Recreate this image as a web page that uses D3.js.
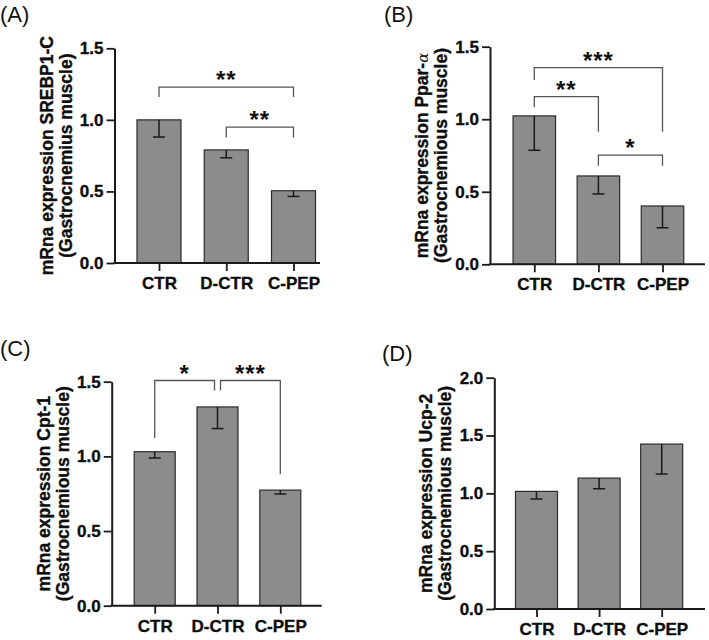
<!DOCTYPE html>
<html><head><meta charset="utf-8">
<script src="https://cdn.jsdelivr.net/npm/d3@7"></script>
<style>body{margin:0;background:#fff}svg{display:block}</style>
</head><body>
<svg id="chart" width="709" height="640"></svg>
<script>
const categories = ["CTR", "D-CTR", "C-PEP"];

const srebpMeans = [1.00, 0.79, 0.505];
const srebpErr   = [0.12, 0.055, 0.04];
const pparMeans  = [1.023, 0.609, 0.402];
const pparErr    = [0.237, 0.124, 0.15];
const cptMeans   = [1.031, 1.331, 0.774];
const cptErr     = [0.042, 0.145, 0.026];
const ucpMeans   = [1.017, 1.132, 1.426];
const ucpErr     = [0.066, 0.092, 0.259];

const ticks15 = [0.0, 0.5, 1.0, 1.5];
const ticks20 = [0.0, 0.5, 1.0, 1.5, 2.0];

// significance brackets: from, to, bar height, left-leg end, right-leg end (data units)
const bracketsA = [
  {a: "CTR",   b: "C-PEP", y: 1.229, ya: 1.159, yb: 1.159, label: "**"},
  {a: "D-CTR", b: "C-PEP", y: 0.949, ya: 0.876, yb: 0.876, label: "**"}
];
const bracketsB = [
  {a: "CTR",   b: "C-PEP", y: 1.356, ya: 1.271, yb: 0.914, label: "***"},
  {a: "CTR",   b: "D-CTR", y: 1.156, ya: 1.083, yb: 0.914, label: "**"},
  {a: "D-CTR", b: "C-PEP", y: 0.752, ya: 0.680, yb: 0.680, label: "*"}
];
const bracketsC = [
  {a: "CTR",   b: "D-CTR", y: 1.508, ya: 1.123, yb: 1.441, label: "*"},
  {a: "D-CTR", b: "C-PEP", y: 1.508, ya: 1.441, yb: 0.882, label: "***"}
];
const bracketsD = [];

const panelLabels = ["(A)", "(B)", "(C)", "(D)"];
const yTitles = [
  ["mRna expression SREBP1-C", "(Gastrocnemius muscle)"],
  ["mRna expression Ppar-", "(Gastrocnemious muscle)"],
  ["mRna expression Cpt-1", "(Gastrocnemious muscle)"],
  ["mRna expression Ucp-2", "(Gastrocnemious muscle)"]
];

const panels = [
  {label: panelLabels[0], means: srebpMeans, errs: srebpErr, brackets: bracketsA, ymax: 1.5, ticks: ticks15, title: yTitles[0], alpha: false,
   lx: 0, ly: 22, axisX: 114.5, y0: 263, yTop: 48.3, xc: [159, 293.5], xEnd: 320, barW: 44},
  {label: panelLabels[1], means: pparMeans, errs: pparErr, brackets: bracketsB, ymax: 1.5, ticks: ticks15, title: yTitles[1], alpha: true,
   lx: 384, ly: 22, axisX: 490, y0: 264.3, yTop: 46.7, xc: [534.3, 662.5], xEnd: 705, barW: 42.5},
  {label: panelLabels[2], means: cptMeans, errs: cptErr, brackets: bracketsC, ymax: 1.5, ticks: ticks15, title: yTitles[2], alpha: false,
   lx: 0, ly: 356, axisX: 111.7, y0: 605.7, yTop: 381.7, xc: [154.7, 280.3], xEnd: 321.7, barW: 41},
  {label: panelLabels[3], means: ucpMeans, errs: ucpErr, brackets: bracketsD, ymax: 2.0, ticks: ticks20, title: yTitles[3], alpha: false,
   lx: 382, ly: 361, axisX: 494.3, y0: 609, yTop: 377.7, xc: [536.5, 661.7], xEnd: 705, barW: 42}
];

const FONT = "'Liberation Sans', Arial, Helvetica, sans-serif";
const INK = "#0d0d0d";
const svg = d3.select("#chart");

function boldText(sel, size) {
  return sel.attr("font-family", FONT).attr("font-size", size).attr("font-weight", "bold")
    .attr("fill", INK).attr("stroke", INK).attr("stroke-width", 0.35);
}

panels.forEach(p => {
  const g = svg.append("g");
  const y = d3.scaleLinear().domain([0, p.ymax]).range([p.y0, p.yTop]);
  const x = d3.scalePoint().domain(categories).range(p.xc);

  // panel label
  g.append("text").attr("x", p.lx).attr("y", p.ly)
    .attr("font-family", FONT).attr("font-size", 22).attr("fill", "#111")
    .text(p.label);

  // bars
  const data = categories.map((c, i) => ({c, m: p.means[i], e: p.errs[i]}));
  g.selectAll("rect.bar").data(data).join("rect")
    .attr("x", d => x(d.c) - p.barW / 2)
    .attr("y", d => y(d.m))
    .attr("width", p.barW)
    .attr("height", d => y(0) - y(d.m))
    .attr("fill", "#8c8c8c").attr("stroke", "#2b2b2b").attr("stroke-width", 1.2);

  // error bars (downward)
  const eb = g.selectAll("g.err").data(data).join("g");
  eb.append("line")
    .attr("x1", d => x(d.c)).attr("x2", d => x(d.c))
    .attr("y1", d => y(d.m)).attr("y2", d => y(d.m - d.e))
    .attr("stroke", "#1a1a1a").attr("stroke-width", 1.5);
  eb.append("line")
    .attr("x1", d => x(d.c) - 6).attr("x2", d => x(d.c) + 6)
    .attr("y1", d => y(d.m - d.e)).attr("y2", d => y(d.m - d.e))
    .attr("stroke", "#1a1a1a").attr("stroke-width", 1.5);

  // y axis
  const ya = g.append("g").attr("transform", `translate(${p.axisX},0)`)
    .call(d3.axisLeft(y).tickValues(p.ticks).tickFormat(d3.format(".1f")).tickSize(8).tickSizeOuter(0).tickPadding(3));
  ya.select(".domain").attr("stroke", "#1a1a1a").attr("stroke-width", 2);
  ya.selectAll(".tick line").attr("stroke", "#1a1a1a").attr("stroke-width", 1.8);
  boldText(ya.selectAll(".tick text"), 17);

  // x axis
  const xa = g.append("g").attr("transform", `translate(0,${p.y0})`)
    .call(d3.axisBottom(x).tickSize(8).tickSizeOuter(0).tickPadding(6));
  xa.select(".domain").remove();
  xa.selectAll(".tick line").attr("stroke", "#1a1a1a").attr("stroke-width", 1.8);
  boldText(xa.selectAll(".tick text"), 17);
  g.append("line").attr("x1", p.axisX - 1).attr("x2", p.xEnd)
    .attr("y1", p.y0).attr("y2", p.y0)
    .attr("stroke", "#1a1a1a").attr("stroke-width", 2);

  // y title
  const cy = (p.y0 + p.yTop) / 2;
  const t1 = boldText(g.append("text"), 17.5)
    .attr("transform", `translate(${p.axisX - 62},${cy}) rotate(-90)`)
    .attr("text-anchor", "middle");
  t1.append("tspan").text(p.title[0]);
  if (p.alpha) {
    t1.append("tspan").attr("font-family", "'DejaVu Serif', serif").attr("font-weight", "normal")
      .attr("stroke-width", 0).attr("font-style", "italic").attr("font-size", 15).text("α");
  }
  boldText(g.append("text"), 17.5)
    .attr("transform", `translate(${p.axisX - 43},${cy}) rotate(-90)`)
    .attr("text-anchor", "middle")
    .text(p.title[1]);

  // significance brackets
  const shift = (b, cat, isLeft) => {
    const shared = p.brackets.some(o => o !== b && Math.abs(o.y - b.y) < 1e-6 && (o.a === cat || o.b === cat));
    return shared ? (isLeft ? 3 : -3) : 0;
  };
  p.brackets.forEach(b => {
    const xl = x(b.a) + shift(b, b.a, true);
    const xr = x(b.b) + shift(b, b.b, false);
    const path = d3.path();
    path.moveTo(xl, y(b.ya));
    path.lineTo(xl, y(b.y));
    path.lineTo(xr, y(b.y));
    path.lineTo(xr, y(b.yb));
    g.append("path").attr("d", path.toString())
      .attr("fill", "none").attr("stroke", "#555").attr("stroke-width", 1.3);
    g.append("text").attr("x", (xl + xr) / 2).attr("y", y(b.y) + 1)
      .attr("text-anchor", "middle")
      .attr("font-family", FONT).attr("font-size", 24).attr("font-weight", "bold")
      .attr("letter-spacing", 1).attr("fill", "#111")
      .text(b.label);
  });
});
</script>
</body></html>
